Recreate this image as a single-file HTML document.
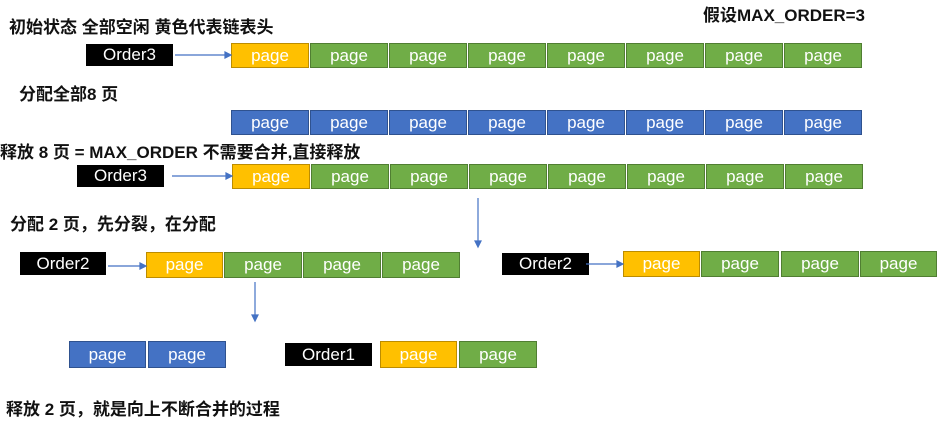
<!DOCTYPE html>
<html><head><meta charset="utf-8"><style>
body{margin:0;width:949px;height:430px;background:#fff;position:relative;overflow:hidden;font-family:"Liberation Sans","Noto Sans CJK SC",sans-serif}
.b{position:absolute;box-sizing:border-box;color:#fff;font-size:17px;text-align:center;display:flex;align-items:center;justify-content:center;border:1.5px solid}
.y{background:#FFC000;border-color:#BC8C00}
.g{background:#70AD47;border-color:#507E32}
.u{background:#4472C4;border-color:#2F528F}
.o{position:absolute;background:#000;color:#fff;font-size:17px;display:flex;align-items:center;justify-content:center}
.t{position:absolute;font-size:17px;font-weight:bold;color:#111;white-space:nowrap}
svg{position:absolute;left:0;top:0}
</style></head><body>
<div class="t" style="left:9px;top:13px">初始状态 全部空闲 黄色代表链表头</div>
<div class="t" style="left:703px;top:1px">假设MAX_ORDER=3</div>
<div class="t" style="left:19px;top:80px">分配全部8 页</div>
<div class="t" style="left:0px;top:138px">释放 8 页 = MAX_ORDER 不需要合并,直接释放</div>
<div class="t" style="left:10px;top:210px">分配  2 页，先分裂，在分配</div>
<div class="t" style="left:6px;top:395px">释放  2 页，就是向上不断合并的过程</div>

<div class="o" style="left:86px;top:44px;width:87px;height:22px">Order3</div>
<div class="b y" style="left:231px;top:43px;width:78px;height:25px">page</div>
<div class="b g" style="left:310px;top:43px;width:78px;height:25px">page</div>
<div class="b g" style="left:389px;top:43px;width:78px;height:25px">page</div>
<div class="b g" style="left:468px;top:43px;width:78px;height:25px">page</div>
<div class="b g" style="left:547px;top:43px;width:78px;height:25px">page</div>
<div class="b g" style="left:626px;top:43px;width:78px;height:25px">page</div>
<div class="b g" style="left:705px;top:43px;width:78px;height:25px">page</div>
<div class="b g" style="left:784px;top:43px;width:78px;height:25px">page</div>

<div class="b u" style="left:231px;top:110px;width:78px;height:25px">page</div>
<div class="b u" style="left:310px;top:110px;width:78px;height:25px">page</div>
<div class="b u" style="left:389px;top:110px;width:78px;height:25px">page</div>
<div class="b u" style="left:468px;top:110px;width:78px;height:25px">page</div>
<div class="b u" style="left:547px;top:110px;width:78px;height:25px">page</div>
<div class="b u" style="left:626px;top:110px;width:78px;height:25px">page</div>
<div class="b u" style="left:705px;top:110px;width:78px;height:25px">page</div>
<div class="b u" style="left:784px;top:110px;width:78px;height:25px">page</div>

<div class="o" style="left:77px;top:165px;width:87px;height:22px">Order3</div>
<div class="b y" style="left:232px;top:164px;width:78px;height:25px">page</div>
<div class="b g" style="left:311px;top:164px;width:78px;height:25px">page</div>
<div class="b g" style="left:390px;top:164px;width:78px;height:25px">page</div>
<div class="b g" style="left:469px;top:164px;width:78px;height:25px">page</div>
<div class="b g" style="left:548px;top:164px;width:78px;height:25px">page</div>
<div class="b g" style="left:627px;top:164px;width:78px;height:25px">page</div>
<div class="b g" style="left:706px;top:164px;width:78px;height:25px">page</div>
<div class="b g" style="left:785px;top:164px;width:78px;height:25px">page</div>

<div class="o" style="left:20px;top:252px;width:86px;height:23px">Order2</div>
<div class="b y" style="left:146px;top:252px;width:77px;height:26px">page</div>
<div class="b g" style="left:224px;top:252px;width:78px;height:26px">page</div>
<div class="b g" style="left:303px;top:252px;width:78px;height:26px">page</div>
<div class="b g" style="left:382px;top:252px;width:78px;height:26px">page</div>

<div class="o" style="left:502px;top:253px;width:87px;height:22px">Order2</div>
<div class="b y" style="left:623px;top:251px;width:77px;height:26px">page</div>
<div class="b g" style="left:701px;top:251px;width:78px;height:26px">page</div>
<div class="b g" style="left:781px;top:251px;width:78px;height:26px">page</div>
<div class="b g" style="left:860px;top:251px;width:77px;height:26px">page</div>

<div class="b u" style="left:69px;top:341px;width:77px;height:27px">page</div>
<div class="b u" style="left:148px;top:341px;width:78px;height:27px">page</div>
<div class="o" style="left:285px;top:343px;width:87px;height:23px">Order1</div>
<div class="b y" style="left:380px;top:341px;width:77px;height:27px">page</div>
<div class="b g" style="left:459px;top:341px;width:78px;height:27px">page</div>

<svg width="949" height="430">
<g stroke="#4472C4" stroke-width="1.2" fill="#4472C4">
<line x1="175" y1="55" x2="226" y2="55"/><polygon points="231,55 225,52 225,58"/>
<line x1="172" y1="176" x2="227" y2="176"/><polygon points="232,176 226,173 226,179"/>
<line x1="108" y1="266" x2="141" y2="266"/><polygon points="146,266 140,263 140,269"/>
<line x1="586" y1="264" x2="618" y2="264"/><polygon points="623,264 617,261 617,267"/>
<line x1="478" y1="198" x2="478" y2="242"/><polygon points="478,247 475,241 481,241"/>
<line x1="255" y1="282" x2="255" y2="316"/><polygon points="255,321 252,315 258,315"/>
</g></svg>
</body></html>
